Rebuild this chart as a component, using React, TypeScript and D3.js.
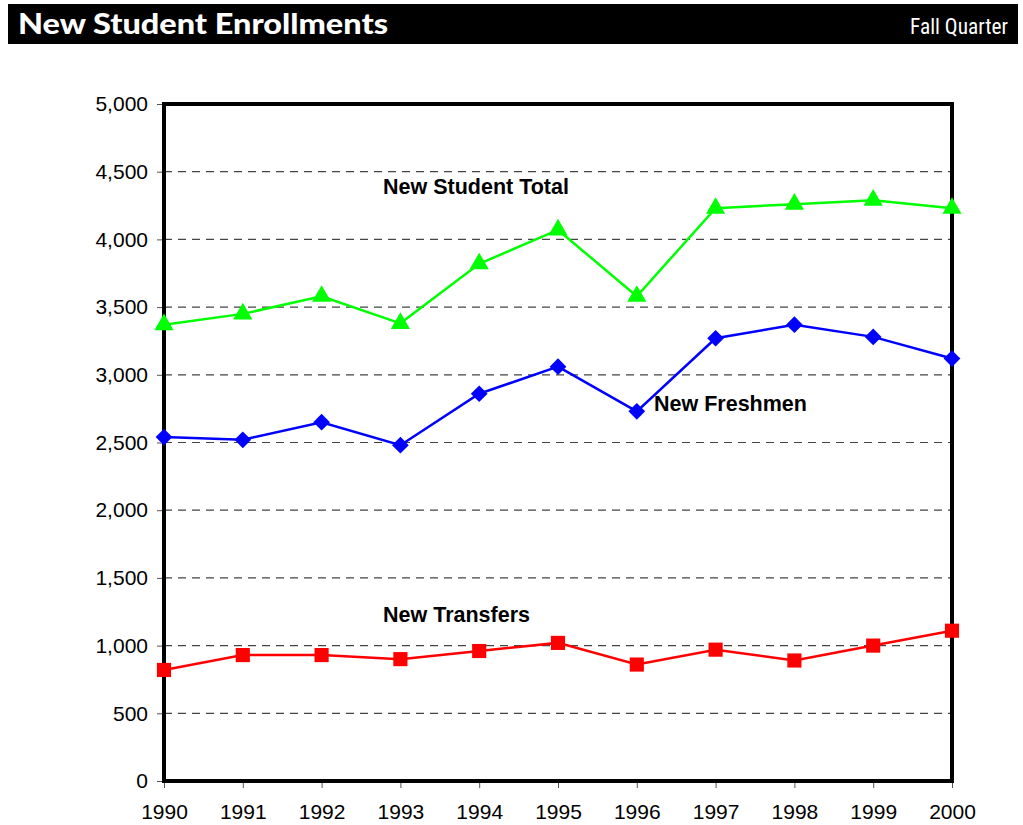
import React, { useEffect, useRef } from 'react';
import * as d3 from 'd3';

const years = [1990, 1991, 1992, 1993, 1994, 1995, 1996, 1997, 1998, 1999, 2000];
const totalValues = [3370, 3450, 3580, 3380, 3820, 4070, 3580, 4230, 4260, 4290, 4230];
const freshmenValues = [2540, 2520, 2650, 2480, 2860, 3060, 2730, 3270, 3370, 3280, 3120];
const transferValues = [820, 930, 930, 900, 960, 1020, 860, 970, 890, 1000, 1110];
const yTicks = [0, 500, 1000, 1500, 2000, 2500, 3000, 3500, 4000, 4500, 5000];

const App: React.FC = () => {
  const chartRef = useRef<SVGSVGElement>(null);

  useEffect(() => {
    const svg = d3.select(chartRef.current!);
    svg.selectAll('*').remove();
    drawChart();
    return () => {
      svg.selectAll('*').remove();
    };
  }, []);

  const drawChart = () => {
    const svg = d3.select(chartRef.current!).attr('width', 1023).attr('height', 825);

    // plot area edges
    const left = 164;
    const right = 952;
    const top = 104;
    const bottom = 781;

    // title bar
    svg.append('rect').attr('x', 8).attr('y', 4).attr('width', 1010).attr('height', 40).attr('fill', '#000');
    svg
      .append('text')
      .attr('x', 18)
      .attr('y', 34)
      .attr('fill', '#fff')
      .attr('font-family', 'Lato, "DejaVu Sans", sans-serif')
      .attr('font-weight', 900)
      .attr('font-size', 28)
      .attr('textLength', 370)
      .attr('lengthAdjust', 'spacingAndGlyphs')
      .text('New Student Enrollments');
    svg
      .append('text')
      .attr('x', 1008)
      .attr('y', 34)
      .attr('text-anchor', 'end')
      .attr('fill', '#fff')
      .attr('font-family', '"Liberation Sans Narrow", "Roboto Condensed", sans-serif')
      .attr('font-size', 22)
      .attr('textLength', 98)
      .attr('lengthAdjust', 'spacingAndGlyphs')
      .text('Fall Quarter');

    const x = d3.scaleLinear().domain([1990, 2000]).range([left, right]);
    const y = d3.scaleLinear().domain([0, 5000]).range([bottom, top]);

    // dashed gridlines
    svg
      .append('g')
      .selectAll('line')
      .data(yTicks.filter((t) => t > 0 && t < 5000))
      .enter()
      .append('line')
      .attr('x1', left)
      .attr('x2', right)
      .attr('y1', (d) => y(d))
      .attr('y2', (d) => y(d))
      .attr('stroke', '#444')
      .attr('stroke-width', 1.2)
      .attr('stroke-dasharray', '8,6');

    // Y axis
    const yAxis = svg
      .append('g')
      .attr('transform', `translate(${left},0)`)
      .call(
        d3
          .axisLeft(y)
          .tickValues(yTicks)
          .tickSize(7)
          .tickPadding(9)
          .tickFormat((d) => d3.format(',')(d as number))
      );
    yAxis.select('.domain').remove();
    yAxis.selectAll('line').attr('stroke', '#555');
    yAxis
      .selectAll('text')
      .attr('font-family', '"Liberation Sans", Arial, sans-serif')
      .attr('font-size', 21)
      .attr('fill', '#000');

    // X axis
    const xAxis = svg
      .append('g')
      .attr('transform', `translate(0,${bottom})`)
      .call(
        d3
          .axisBottom(x)
          .tickValues(years)
          .tickSize(7)
          .tickPadding(16)
          .tickFormat((d) => String(d))
      );
    xAxis.select('.domain').remove();
    xAxis.selectAll('line').attr('stroke', '#555');
    xAxis
      .selectAll('text')
      .attr('font-family', '"Liberation Sans", Arial, sans-serif')
      .attr('font-size', 21)
      .attr('fill', '#000');

    // thick frame
    svg
      .append('rect')
      .attr('x', left)
      .attr('y', top)
      .attr('width', right - left)
      .attr('height', bottom - top)
      .attr('fill', 'none')
      .attr('stroke', '#000')
      .attr('stroke-width', 4);

    const series = [
      { name: 'total', values: totalValues, color: '#00ff00', shape: d3.symbolTriangle, size: 160, rotate: 0 },
      { name: 'freshmen', values: freshmenValues, color: '#0000ff', shape: d3.symbolSquare, size: 140, rotate: 45 },
      { name: 'transfers', values: transferValues, color: '#ff0000', shape: d3.symbolSquare, size: 200, rotate: 0 },
    ];

    const line = d3
      .line<number>()
      .x((_, i) => x(years[i]))
      .y((d) => y(d));

    series.forEach((s) => {
      svg
        .append('path')
        .datum(s.values)
        .attr('d', line)
        .attr('fill', 'none')
        .attr('stroke', s.color)
        .attr('stroke-width', 2.5);
      svg
        .append('g')
        .selectAll('path')
        .data(s.values)
        .enter()
        .append('path')
        .attr('transform', (d, i) => `translate(${x(years[i])},${y(d)}) rotate(${s.rotate})`)
        .attr('d', d3.symbol().type(s.shape).size(s.size)())
        .attr('fill', s.color);
    });

    // series labels
    const labels = [
      { text: 'New Student Total', x: 383, y: 194 },
      { text: 'New Freshmen', x: 654, y: 411 },
      { text: 'New Transfers', x: 383, y: 622 },
    ];
    svg
      .append('g')
      .selectAll('text')
      .data(labels)
      .enter()
      .append('text')
      .attr('x', (d) => d.x)
      .attr('y', (d) => d.y)
      .attr('font-family', '"Liberation Sans", Arial, sans-serif')
      .attr('font-weight', 'bold')
      .attr('font-size', 21.5)
      .attr('fill', '#000')
      .text((d) => d.text);
  };

  return (
    <div>
      <svg ref={chartRef} style={{ position: 'absolute', left: 0, top: 0, display: 'block' }} />
    </div>
  );
};

export default App;
